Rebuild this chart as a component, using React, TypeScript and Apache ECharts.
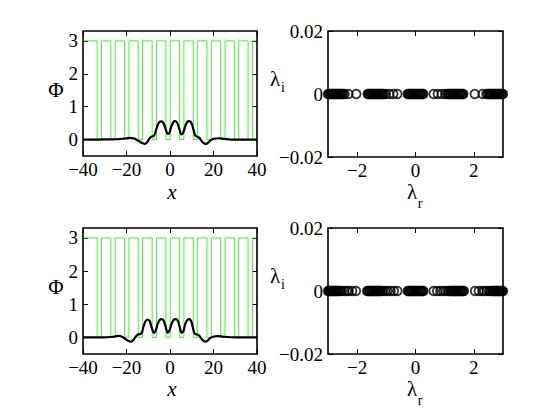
import React, { useEffect, useRef } from "react";
import * as echarts from "echarts";

// Potential (green square wave): low segments [start, end] in x, high level 3, low level 0
const wellStarts = [-33.5, -27.2, -20.9, -14.6, -8.2, -1.9, 4.4, 10.7, 17.0, 23.3, 29.6, 35.9];
const wellEnds = [-31.5, -25.2, -18.9, -12.6, -6.2, 0.1, 6.4, 12.7, 19.0, 25.3, 31.6, 37.9];
const potHigh = 3;
const potLow = 0;

// Black curves Phi(x)
const phiTopX = [-40, -34, -28, -24, -21, -18.5, -16.5, -14.5, -12.5, -11.5, -10.5, -9.5, -8.5, -7.5, -6.8, -6, -5, -4, -3, -2, -1, -0.3, 0.5, 1.5, 2.3, 3.2, 4.2, 5.2, 6, 7, 8, 9, 10, 10.8, 11.6, 12.5, 13.5, 14.5, 15.5, 16.5, 17.5, 18.5, 20, 22.5, 25, 28, 34, 40];
const phiTopY = [0, 0, 0.005, 0.01, 0.03, 0.05, 0.03, -0.04, -0.11, -0.13, -0.08, 0.03, 0.09, 0.11, 0.2, 0.38, 0.52, 0.55, 0.5, 0.32, 0.17, 0.2, 0.38, 0.53, 0.56, 0.52, 0.35, 0.16, 0.2, 0.4, 0.54, 0.56, 0.48, 0.3, 0.12, 0.09, 0.05, -0.04, -0.11, -0.13, -0.1, -0.03, 0.02, 0.04, 0.02, 0, 0, 0];

const phiBotX = [-40, -34, -29, -26, -24, -22, -20.5, -19, -18, -17, -16, -15, -14, -13, -12.3, -11.3, -10.4, -9.4, -8.5, -7.4, -6.6, -5.7, -4.7, -3.8, -2.9, -2, -1, -0.2, 0.8, 1.8, 2.7, 3.6, 4.5, 5.4, 6.2, 7, 8, 8.8, 9.7, 10.5, 11.3, 12.3, 13.3, 14.3, 15.3, 16.3, 17.3, 18.3, 19.8, 22, 24.5, 28, 34, 40];
const phiBotY = [0, 0, 0.005, 0.02, 0.045, 0.02, -0.05, -0.11, -0.13, -0.09, 0, 0.08, 0.1, 0.13, 0.3, 0.48, 0.54, 0.5, 0.32, 0.14, 0.2, 0.4, 0.53, 0.55, 0.5, 0.32, 0.14, 0.22, 0.42, 0.54, 0.55, 0.5, 0.3, 0.14, 0.2, 0.4, 0.53, 0.55, 0.5, 0.3, 0.12, 0.09, 0.06, -0.03, -0.1, -0.13, -0.1, -0.03, 0.02, 0.04, 0.02, 0.005, 0, 0];

// Spectra (real parts; imaginary parts are 0)
const specTop = [
  -3.0, -2.97, -2.94, -2.91, -2.88, -2.85, -2.82, -2.79, -2.76, -2.73, -2.7, -2.67, -2.64, -2.61, -2.58, -2.55, -2.52, -2.48, -2.43, -2.3, -2.03,
  -1.64, -1.61, -1.58, -1.55, -1.52, -1.49, -1.46, -1.43, -1.4, -1.37, -1.34, -1.31, -1.28, -1.25, -1.22, -1.19, -1.16, -1.13, -1.09, -1.02, -0.9, -0.76, -0.62,
  -0.27, -0.24, -0.21, -0.18, -0.15, -0.12, -0.09, -0.06, -0.03, 0.0, 0.03, 0.06, 0.09, 0.12, 0.15, 0.18, 0.21, 0.24, 0.27,
  0.62, 0.76, 0.9, 1.02, 1.09, 1.13, 1.16, 1.19, 1.22, 1.25, 1.28, 1.31, 1.34, 1.37, 1.4, 1.43, 1.46, 1.49, 1.52, 1.55, 1.58, 1.61, 1.64,
  2.03, 2.3, 2.43, 2.48, 2.52, 2.55, 2.58, 2.61, 2.64, 2.67, 2.7, 2.73, 2.76, 2.79, 2.82, 2.85, 2.88, 2.91, 2.94, 2.97, 3.0,
];
const specBot = [
  -3.0, -2.97, -2.94, -2.91, -2.88, -2.85, -2.82, -2.79, -2.76, -2.73, -2.7, -2.67, -2.63, -2.58, -2.52, -2.44, -2.36, -2.29, -2.17, -2.04,
  -1.66, -1.63, -1.6, -1.57, -1.54, -1.51, -1.48, -1.45, -1.42, -1.39, -1.36, -1.33, -1.3, -1.27, -1.24, -1.21, -1.18, -1.12, -1.04, -0.95, -0.85, -0.74, -0.62,
  -0.27, -0.24, -0.21, -0.18, -0.15, -0.12, -0.09, -0.06, -0.03, 0.0, 0.03, 0.06, 0.09, 0.12, 0.15, 0.18, 0.21, 0.24, 0.27,
  0.62, 0.74, 0.85, 0.95, 1.04, 1.12, 1.18, 1.21, 1.24, 1.27, 1.3, 1.33, 1.36, 1.39, 1.42, 1.45, 1.48, 1.51, 1.54, 1.57, 1.6, 1.63, 1.66,
  2.04, 2.17, 2.29, 2.36, 2.44, 2.52, 2.58, 2.63, 2.67, 2.7, 2.73, 2.76, 2.79, 2.82, 2.85, 2.88, 2.91, 2.94, 2.97, 3.0,
];

// Tick labels
const phiYTicks = [0, 1, 2, 3];
const lamRTicks = [-2, 0, 2];
const lamITicks = [-0.02, 0, 0.02];

const FONT = "Times New Roman, Liberation Serif, DejaVu Serif, serif";
const FS = 19;

const minusFmt = (v: number, dec = 0) => {
  if (Math.abs(v) < 1e-12) return "0";
  const s = Math.abs(v).toFixed(dec);
  return v < 0 ? "\u2212" + s : s;
};

function potentialData() {
  const d: number[][] = [[-40, potHigh]];
  for (let i = 0; i < wellStarts.length; i++) {
    d.push([wellStarts[i], potHigh], [wellStarts[i], potLow], [wellEnds[i], potLow], [wellEnds[i], potHigh]);
  }
  d.push([40, potHigh]);
  return d;
}

const zip = (xs: number[], ys: number[]) => xs.map((x, i) => [x, ys[i]]);

export default function App() {
  const ref = useRef<HTMLDivElement>(null);
  useEffect(() => {
    document.body.style.margin = "0";
    const chart = echarts.init(ref.current!, null, { renderer: "svg" });
    const grids = [
      { left: 83, top: 31, width: 174, height: 125 },
      { left: 328, top: 31, width: 175, height: 126 },
      { left: 83, top: 228, width: 174, height: 126 },
      { left: 328, top: 228, width: 175, height: 126 },
    ].map((g) => ({ ...g, show: true, borderColor: "#000", borderWidth: 1.6, backgroundColor: "transparent", z: 5 }));

    const labelStyle = { fontFamily: FONT, fontSize: FS, color: "#000" };
    const tick = (vals: number[] | null) => ({
      show: true,
      inside: true,
      length: 5,
      lineStyle: { color: "#000", width: 1 },
      ...(vals ? { customValues: vals } : {}),
    });
    const noLine = { show: false, onZero: false };

    const xAxes: any[] = [];
    const yAxes: any[] = [];
    [0, 1, 2, 3].forEach((g) => {
      const isPhi = g % 2 === 0;
      const xBase: any = isPhi
        ? { type: "value", min: -40, max: 40, interval: 20 }
        : { type: "value", min: -3, max: 3 };
      const xVals = isPhi ? null : lamRTicks;
      xAxes.push({
        ...xBase,
        gridIndex: g,
        position: "bottom",
        axisLine: noLine,
        splitLine: { show: false },
        axisTick: tick(xVals),
        axisLabel: {
          ...labelStyle,
          margin: 4,
          formatter: (v: number) => minusFmt(v),
          ...(xVals ? { customValues: xVals } : {}),
        },
      });
      xAxes.push({
        ...xBase,
        gridIndex: g,
        position: "top",
        axisLine: noLine,
        splitLine: { show: false },
        axisTick: tick(xVals),
        axisLabel: { show: false, ...(xVals ? { customValues: xVals } : {}) },
      });
      const yBase: any = isPhi
        ? { type: "value", min: -0.5, max: 3.3 }
        : { type: "value", min: -0.02, max: 0.02, interval: 0.02 };
      const yVals = isPhi ? phiYTicks : lamITicks;
      yAxes.push({
        ...yBase,
        gridIndex: g,
        position: "left",
        axisLine: noLine,
        splitLine: { show: false },
        axisTick: tick(yVals),
        axisLabel: {
          ...labelStyle,
          margin: 5,
          formatter: (v: number) => (isPhi ? minusFmt(v) : minusFmt(v, 2)),
          customValues: yVals,
        },
      });
      yAxes.push({
        ...yBase,
        gridIndex: g,
        position: "right",
        axisLine: noLine,
        splitLine: { show: false },
        axisTick: tick(yVals),
        axisLabel: { show: false, customValues: yVals },
      });
    });

    const pot = potentialData();
    const lineSeries = (data: number[][], g: number, color: string, width: number, smooth: boolean, z: number) => ({
      type: "line",
      xAxisIndex: g * 2,
      yAxisIndex: g * 2,
      data,
      showSymbol: false,
      symbol: "none",
      smooth: smooth ? 0.35 : false,
      lineStyle: { color, width },
      z,
      silent: true,
    });
    const scatterSeries = (vals: number[], g: number) => ({
      type: "scatter",
      xAxisIndex: g * 2,
      yAxisIndex: g * 2,
      data: vals.map((v) => [v, 0]),
      symbol: "circle",
      symbolSize: 8.5,
      clip: false,
      itemStyle: { color: "transparent", borderColor: "#000", borderWidth: 1.8 },
      silent: true,
    });

    const txt = (x: number, y: number, text: string, size: number, italic = false) => ({
      type: "text",
      x,
      y,
      style: {
        text,
        fontFamily: FONT,
        fontSize: size,
        fontStyle: italic ? "italic" : "normal",
        fill: "#000",
        align: "center",
        verticalAlign: "middle",
      },
    });

    chart.setOption({
      animation: false,
      backgroundColor: "#fff",
      grid: grids,
      xAxis: xAxes,
      yAxis: yAxes,
      series: [
        lineSeries(pot, 0, "#33ee22", 0.9, false, 2),
        lineSeries(zip(phiTopX, phiTopY), 0, "#000", 2.2, true, 3),
        scatterSeries(specTop, 1),
        lineSeries(pot, 2, "#33ee22", 0.9, false, 2),
        lineSeries(zip(phiBotX, phiBotY), 2, "#000", 2.2, true, 3),
        scatterSeries(specBot, 3),
      ],
      graphic: [
        txt(56, 90, "Φ", 21),
        txt(56, 287, "Φ", 21),
        txt(172, 192, "x", 21, true),
        txt(172, 389, "x", 21, true),
        txt(275, 79, "λ", 21),
        txt(283, 87, "i", 14),
        txt(275, 276, "λ", 21),
        txt(283, 284, "i", 14),
        txt(412, 192, "λ", 21),
        txt(420, 203, "r", 14),
        txt(412, 389, "λ", 21),
        txt(420, 400, "r", 14),
      ],
    });
    return () => chart.dispose();
  }, []);
  return <div ref={ref} style={{ width: 554, height: 416 }} />;
}
